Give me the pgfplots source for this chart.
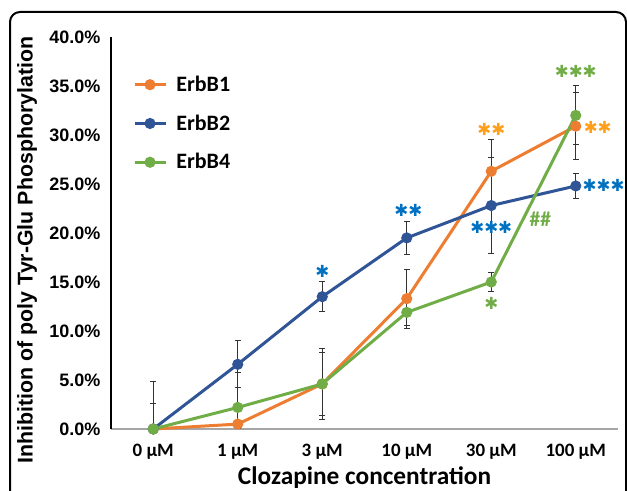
\documentclass[border=0pt]{standalone}
\usepackage{fontspec}
\usepackage{pgfplots}
\usepackage{pgfplotstable}
\pgfplotsset{compat=1.18}
\setmainfont{Carlito}
\newfontfamily\arialb{Liberation Sans}
\newfontfamily\dejavu{DejaVu Sans}

\definecolor{cOrange}{HTML}{ED7D31}
\definecolor{cBlue}{HTML}{2F5597}
\definecolor{cGreen}{HTML}{70AD47}
\definecolor{sOrange}{HTML}{FF9E1B}
\definecolor{sBlue}{HTML}{0070C0}

% mean inhibition (%) with upper / lower error
\pgfplotstableread{
x  b1    p1   m1    b2    p2   m2   b4    p4   m4
0  0     2.6  0     0     4.8  0    0     0    0
1  0.5   3.7  0.5   6.6   2.4  2.4  2.2   3.6  2.2
2  4.6   3.6  3.6   13.5  1.5  1.5  4.6   3.2  3.2
3  13.3  3.0  3.0   19.5  1.7  1.7  11.9  1.3  1.3
4  26.3  3.2  3.2   22.8  4.9  4.9  15.0  0.95 0.95
5  30.9  3.4  3.4   24.8  1.3  1.3  32.0  3.0  3.0
}\data

\begin{document}
\begin{tikzpicture}
\useasboundingbox (0,0) rectangle (470.25pt,368.25pt);
\draw[line width=1.5pt, rounded corners=7.5pt] (7.5pt,-20pt) rectangle (469.5pt,359.25pt);

\begin{axis}[
    at={(83.25pt,46.5pt)}, anchor=south west,
    scale only axis,
    width=380.25pt, height=294pt,
    xmin=-0.5, xmax=5.5,
    ymin=0, ymax=40,
    clip=false,
    axis x line=bottom, axis y line=left,
    x axis line style={-, gray!70, line width=0.8pt},
    y axis line style={-, black, line width=0.8pt},
    major tick length=0pt,
    xtick=data,
    xticklabels={0 µM, 1 µM, 3 µM, 10 µM, 30 µM, 100 µM},
    xticklabel style={font=\bfseries\fontsize{14.2}{16}\selectfont, yshift=-7.5pt},
    ytick={0,5,...,40},
    yticklabel={\pgfmathprintnumber[fixed,fixed zerofill,precision=1]{\tick}\%},
    yticklabel style={font=\arialb\bfseries\fontsize{13.5}{15}\selectfont, xshift=-4.5pt},
    /pgf/number format/assume math mode=true,
    every axis plot/.append style={line width=2.25pt, mark=*, mark size=3pt},
    error bars/y dir=both, error bars/y explicit,
    error bars/error bar style={black!80, line width=0.75pt},
    error bars/error mark options={rotate=90, mark size=2.4pt, line width=0.75pt, black!80},
    legend image code/.code={\draw[mark repeat=2,mark phase=2] plot coordinates {(0pt,0pt)(11.6pt,0pt)(23.2pt,0pt)};},
    legend style={draw=none, fill=none, at={(axis description cs:0.043,0.908)}, anchor=north west,
        font=\bfseries\fontsize{16.5}{18}\selectfont, row sep=12pt, inner sep=0pt,
        nodes={inner xsep=7pt}},
    legend cell align=left,
]
\addplot[color=cOrange, mark options={fill=cOrange}] table[x=x, y=b1, y error plus=p1, y error minus=m1] {\data};
\addlegendentry{ErbB1}
\addplot[color=cBlue, mark options={fill=cBlue}] table[x=x, y=b2, y error plus=p2, y error minus=m2] {\data};
\addlegendentry{ErbB2}
\addplot[color=cGreen, mark options={fill=cGreen}] table[x=x, y=b4, y error plus=p4, y error minus=m4] {\data};
\addlegendentry{ErbB4}

% significance marks
\begin{scope}[every node/.style={font=\dejavu\fontsize{12.5}{12.5}\selectfont, inner sep=0pt}]
\node[text=cGreen]  at (axis cs:5,36.5)    {✱✱✱};
\node[text=sOrange] at (axis cs:4,30.6)    {✱✱};
\node[text=sOrange] at (axis cs:5.26,30.8) {✱✱};
\node[text=sBlue]   at (axis cs:5.33,24.9) {✱✱✱};
\node[text=sBlue]   at (axis cs:3.02,22.3) {✱✱};
\node[text=sBlue]   at (axis cs:4,20.6)    {✱✱✱};
\node[text=sBlue]   at (axis cs:2,16.1)    {✱};
\node[text=cGreen]  at (axis cs:4,12.8)    {✱};
\end{scope}
\node[text=cGreen, font=\bfseries\fontsize{16}{16}\selectfont, inner sep=0pt] at (axis cs:4.58,21.4) {\#\#};
\end{axis}

\node[rotate=90, font=\arialb\bfseries\fontsize{16}{18}\selectfont] at (20.25pt,180.75pt) {Inhibition of poly Tyr-Glu Phosphorylation};
\node[anchor=base, font=\bfseries\fontsize{19}{22}\selectfont, inner sep=0pt] at (273.4pt,4.6pt) {Clozapine concentration};
\end{tikzpicture}
\end{document}
